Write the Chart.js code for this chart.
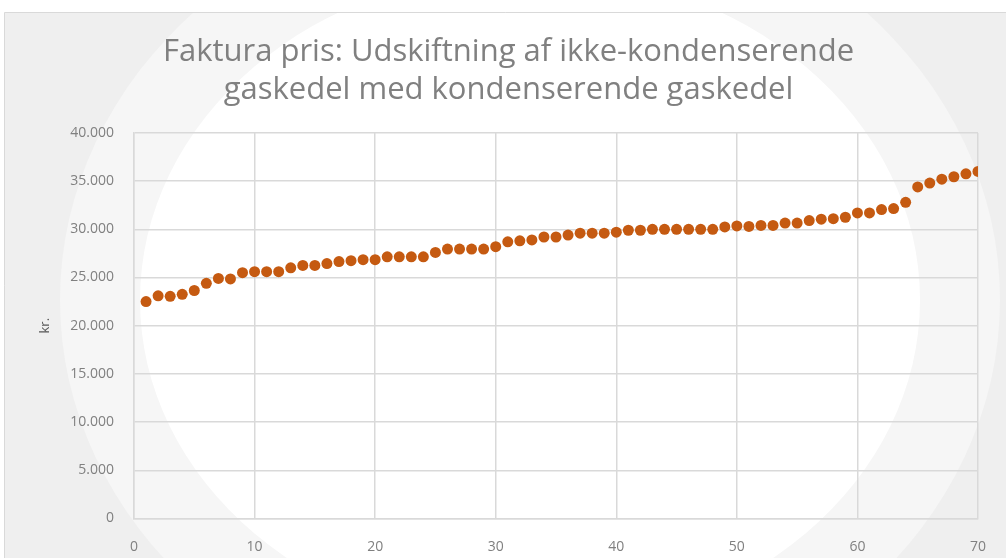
<!DOCTYPE html>
<html>
<head>
<meta charset="utf-8">
<script src="https://cdn.jsdelivr.net/npm/chart.js@4"></script>
<style>
  html, body { margin: 0; padding: 0; background: #fff; }
  #chart { display: block; }
</style>
</head>
<body>
<canvas id="chart" width="1006" height="558"></canvas>
<script>
// invoice price per case, sorted (kr.)
const caseNumbers = [
  1, 2, 3, 4, 5, 6, 7, 8, 9, 10,
  11, 12, 13, 14, 15, 16, 17, 18, 19, 20,
  21, 22, 23, 24, 25, 26, 27, 28, 29, 30,
  31, 32, 33, 34, 35, 36, 37, 38, 39, 40,
  41, 42, 43, 44, 45, 46, 47, 48, 49, 50,
  51, 52, 53, 54, 55, 56, 57, 58, 59, 60,
  61, 62, 63, 64, 65, 66, 67, 68, 69, 70
];
const prices = [
  22500, 23100, 23050, 23250, 23650, 24400, 24900, 24850, 25500, 25600,
  25600, 25600, 26000, 26250, 26250, 26450, 26650, 26750, 26850, 26850,
  27150, 27150, 27150, 27150, 27600, 27950, 27950, 27950, 27950, 28200,
  28700, 28800, 28900, 29200, 29200, 29400, 29600, 29600, 29600, 29700,
  29900, 29900, 30000, 30000, 30000, 30000, 30000, 30000, 30250, 30350,
  30300, 30400, 30400, 30650, 30650, 30900, 31050, 31100, 31250, 31700,
  31700, 32050, 32150, 32800, 34400, 34800, 35200, 35450, 35750, 36000
];
const titleLines = [
  'Faktura pris: Udskiftning af ikke-kondenserende',
  'gaskedel med kondenserende gaskedel'
];
const yAxisLabel = 'kr.';

const points = caseNumbers.map((x, i) => ({ x: x, y: prices[i] }));

function danishNumber(v) {
  return String(v).replace(/\B(?=(\d{3})+(?!\d))/g, '.');
}

// soft grey frame with white oval glow behind everything
const backdrop = {
  id: 'backdrop',
  beforeDraw(chart) {
    const c = chart.ctx;
    c.save();
    c.fillStyle = '#ffffff';
    c.fillRect(0, 0, chart.width, chart.height);
    c.beginPath();
    c.rect(4.5, 12.5, chart.width, chart.height);
    c.clip();
    c.fillStyle = '#efefef';
    c.fillRect(0, 0, chart.width, chart.height);
    c.fillStyle = '#f6f6f6';
    c.beginPath();
    c.ellipse(530, 300, 470, 412, 0, 0, Math.PI * 2);
    c.fill();
    c.fillStyle = '#ffffff';
    c.beginPath();
    c.ellipse(530, 300, 390, 330, 0, 0, Math.PI * 2);
    c.fill();
    c.restore();
    c.save();
    c.strokeStyle = '#d9d9d9';
    c.lineWidth = 1;
    c.beginPath();
    c.moveTo(4.5, chart.height);
    c.lineTo(4.5, 12.5);
    c.lineTo(chart.width, 12.5);
    c.stroke();
    c.restore();
  }
};

new Chart(document.getElementById('chart'), {
  type: 'scatter',
  data: {
    datasets: [{
      label: 'Faktura pris',
      data: points,
      backgroundColor: '#c55a11',
      borderColor: '#c55a11',
      pointRadius: 5.5,
      pointHoverRadius: 5.5,
      borderWidth: 0
    }]
  },
  options: {
    responsive: false,
    animation: false,
    layout: { padding: { left: 33, right: 22, top: 0, bottom: 0 } },
    plugins: {
      legend: { display: false },
      tooltip: { enabled: false },
      title: {
        display: true,
        text: titleLines,
        color: '#808080',
        font: { family: 'Open Sans', size: 31, weight: 'normal', lineHeight: 1.2 },
        padding: { top: 34, bottom: 24.5 }
      }
    },
    scales: {
      x: {
        type: 'linear',
        min: 0,
        max: 70,
        ticks: {
          stepSize: 10,
          color: '#808080',
          padding: 20,
          font: { family: 'Open Sans', size: 14 }
        },
        grid: { color: '#d9d9d9', lineWidth: 1.5, drawTicks: false },
        border: { color: '#d9d9d9', width: 1.5 },
        afterFit(scale) { scale.height = 39.5; }
      },
      y: {
        min: 0,
        max: 40000,
        ticks: {
          stepSize: 5000,
          color: '#808080',
          padding: 20,
          font: { family: 'Open Sans', size: 14 },
          callback: (v) => danishNumber(v)
        },
        grid: { color: '#d9d9d9', lineWidth: 1.5, drawTicks: false },
        border: { color: '#d9d9d9', width: 1.5 },
        title: {
          display: true,
          text: yAxisLabel,
          color: '#595959',
          font: { family: 'Open Sans', size: 13 },
          padding: { top: 4, bottom: 0 }
        },
        afterFit(scale) { scale.width = 101; }
      }
    }
  },
  plugins: [backdrop]
});
</script>
</body>
</html>
